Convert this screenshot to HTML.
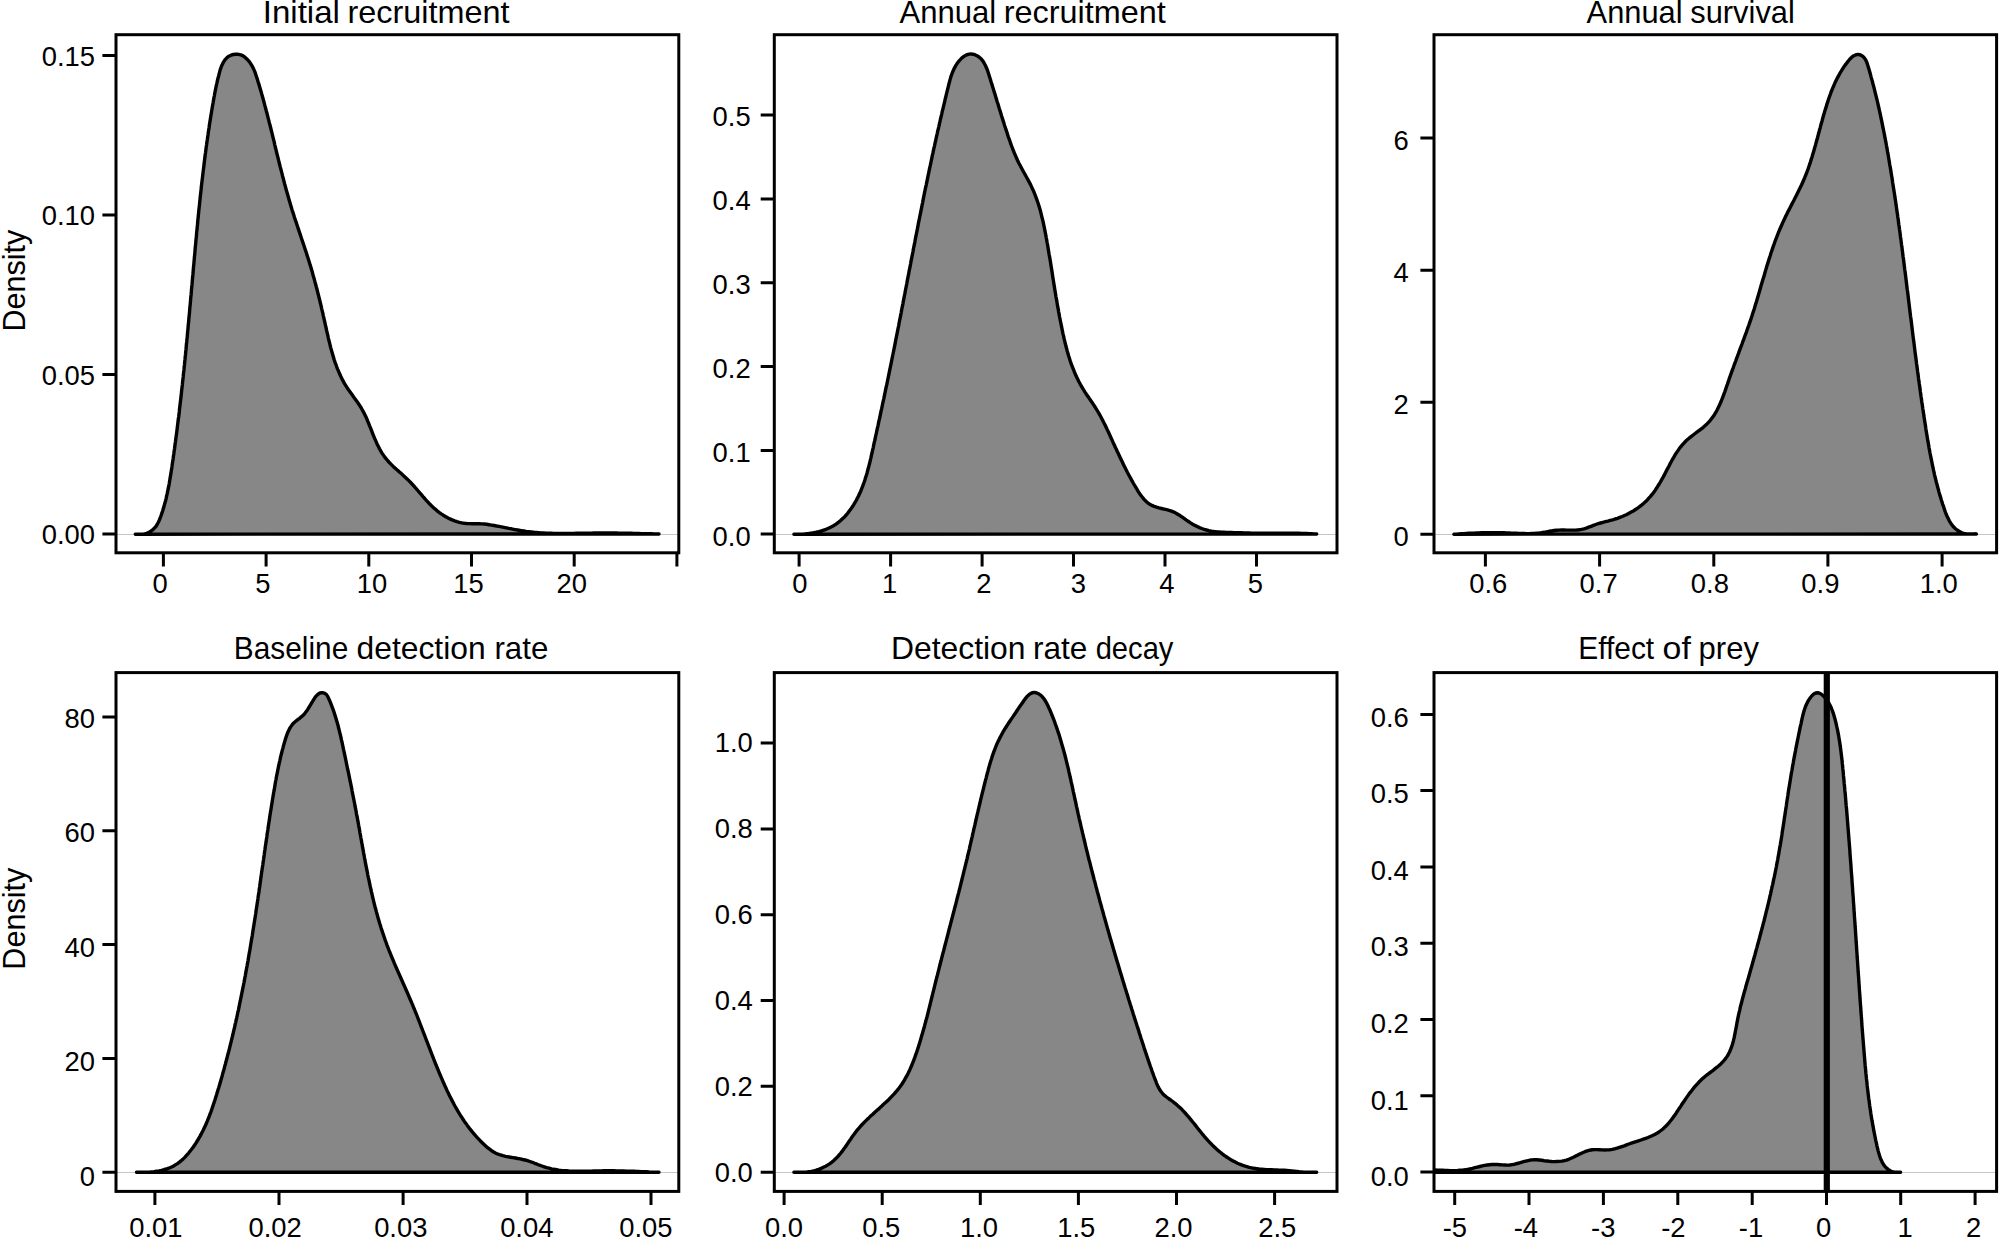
<!DOCTYPE html>
<html lang="en"><head><meta charset="utf-8"><title>Posterior densities</title>
<style>
html,body{margin:0;padding:0;background:#fff}
body{width:2005px;height:1243px;overflow:hidden}
svg{display:block}
text{font-family:"Liberation Sans", sans-serif;fill:#000}
.tk{font-size:27.4px}
.tt{font-size:30.5px}
.fr{fill:none;stroke:#000;stroke-width:3.0}
.cv{fill:#878787;stroke:#000;stroke-width:3.4;stroke-linejoin:round;stroke-linecap:round}
.t{stroke:#000;stroke-width:3.0;fill:none}
.hl{stroke:#c6c6c6;stroke-width:1;fill:none}
</style></head>
<body>
<svg width="2005" height="1243" viewBox="0 0 2005 1243">
<rect x="0" y="0" width="2005" height="1243" fill="#fff"/>
<g id="panel1">
<path class="hl" d="M116.0 534.5 H678.8"/>
<path class="cv" d="M135.3 534.2 L137.9 534.1 L140.5 534.1 L143.1 534.1 L145.6 533.8 L147.9 532.8 L150.1 531.7 L152.2 530.2 L154.0 528.6 L155.7 526.7 L157.0 524.7 L158.2 522.5 L159.3 520.2 L160.2 517.8 L161.1 515.5 L161.9 513.1 L162.7 510.7 L163.4 508.3 L164.1 505.9 L164.8 503.4 L165.5 501.0 L166.1 498.6 L166.6 496.1 L167.2 493.7 L167.7 491.2 L168.2 488.7 L168.7 486.3 L169.2 483.8 L169.6 481.3 L170.0 478.8 L170.4 476.4 L170.8 473.9 L171.2 471.4 L171.6 468.9 L172.0 466.4 L172.3 463.9 L172.7 461.4 L173.1 458.9 L173.4 456.5 L173.8 454.0 L174.1 451.5 L174.5 449.0 L174.8 446.5 L175.1 444.0 L175.5 441.5 L175.8 439.0 L176.1 436.6 L176.5 434.1 L176.8 431.6 L177.1 429.1 L177.4 426.6 L177.7 424.1 L178.0 421.6 L178.3 419.2 L178.7 416.7 L179.0 414.2 L179.3 411.7 L179.5 409.2 L179.8 406.7 L180.1 404.2 L180.4 401.8 L180.7 399.3 L181.0 396.8 L181.3 394.3 L181.5 391.8 L181.8 389.3 L182.1 386.8 L182.4 384.4 L182.6 381.9 L182.9 379.4 L183.2 376.9 L183.4 374.4 L183.7 371.9 L184.0 369.4 L184.2 366.9 L184.5 364.5 L184.7 362.0 L185.0 359.5 L185.2 357.0 L185.5 354.5 L185.7 352.0 L186.0 349.5 L186.2 347.0 L186.4 344.5 L186.7 342.0 L186.9 339.6 L187.2 337.1 L187.4 334.6 L187.6 332.1 L187.9 329.6 L188.1 327.1 L188.3 324.6 L188.6 322.1 L188.8 319.6 L189.0 317.1 L189.3 314.6 L189.5 312.1 L189.7 309.6 L189.9 307.1 L190.2 304.6 L190.4 302.2 L190.6 299.7 L190.8 297.2 L191.1 294.7 L191.3 292.2 L191.5 289.7 L191.7 287.2 L192.0 284.7 L192.2 282.2 L192.4 279.7 L192.6 277.2 L192.9 274.7 L193.1 272.2 L193.3 269.7 L193.5 267.1 L193.8 264.6 L194.0 262.1 L194.2 259.6 L194.4 257.1 L194.7 254.6 L194.9 252.1 L195.1 249.6 L195.3 247.1 L195.6 244.6 L195.8 242.1 L196.0 239.6 L196.3 237.1 L196.5 234.6 L196.7 232.1 L197.0 229.6 L197.2 227.1 L197.5 224.6 L197.7 222.1 L197.9 219.6 L198.2 217.1 L198.4 214.6 L198.7 212.1 L198.9 209.6 L199.2 207.1 L199.5 204.6 L199.7 202.1 L200.0 199.6 L200.2 197.1 L200.5 194.6 L200.8 192.1 L201.1 189.6 L201.3 187.1 L201.6 184.6 L201.9 182.1 L202.2 179.6 L202.5 177.1 L202.8 174.6 L203.1 172.1 L203.4 169.6 L203.7 167.2 L204.0 164.7 L204.3 162.2 L204.6 159.7 L204.9 157.2 L205.2 154.7 L205.6 152.2 L205.9 149.8 L206.2 147.3 L206.6 144.8 L206.9 142.3 L207.3 139.8 L207.6 137.4 L208.0 134.9 L208.3 132.4 L208.7 129.9 L209.1 127.5 L209.4 125.0 L209.8 122.5 L210.2 120.1 L210.6 117.6 L211.0 115.1 L211.4 112.7 L211.8 110.2 L212.2 107.8 L212.6 105.3 L213.1 102.8 L213.5 100.4 L213.9 97.9 L214.4 95.5 L214.8 93.0 L215.3 90.6 L215.8 88.1 L216.3 85.6 L216.9 83.2 L217.4 80.7 L218.0 78.2 L218.7 75.7 L219.3 73.1 L220.0 70.6 L220.8 68.1 L221.7 65.7 L222.8 63.4 L224.0 61.2 L225.4 59.3 L227.0 57.6 L228.9 56.2 L231.0 55.2 L233.4 54.5 L235.8 54.2 L238.3 54.3 L240.8 54.9 L243.1 55.9 L245.2 57.4 L247.1 59.2 L248.8 61.1 L250.3 63.1 L251.7 65.2 L252.9 67.4 L253.9 69.6 L254.9 71.9 L255.7 74.3 L256.5 76.7 L257.3 79.1 L258.0 81.5 L258.8 83.9 L259.5 86.3 L260.2 88.7 L260.9 91.1 L261.6 93.6 L262.3 96.0 L263.0 98.4 L263.6 100.8 L264.3 103.3 L264.9 105.7 L265.6 108.1 L266.2 110.5 L266.9 113.0 L267.5 115.4 L268.1 117.8 L268.7 120.2 L269.3 122.7 L270.0 125.1 L270.6 127.5 L271.2 130.0 L271.8 132.4 L272.4 134.8 L273.0 137.3 L273.6 139.7 L274.2 142.1 L274.7 144.6 L275.3 147.0 L275.9 149.4 L276.5 151.9 L277.1 154.3 L277.7 156.7 L278.3 159.2 L278.9 161.6 L279.5 164.0 L280.1 166.4 L280.8 168.9 L281.4 171.3 L282.0 173.7 L282.6 176.2 L283.3 178.6 L283.9 181.0 L284.5 183.4 L285.2 185.8 L285.8 188.3 L286.5 190.7 L287.2 193.1 L287.9 195.5 L288.6 197.9 L289.2 200.3 L290.0 202.7 L290.7 205.2 L291.4 207.6 L292.1 210.0 L292.9 212.4 L293.7 214.8 L294.4 217.2 L295.2 219.6 L296.0 221.9 L296.8 224.3 L297.6 226.7 L298.4 229.1 L299.2 231.5 L300.0 233.9 L300.8 236.3 L301.6 238.7 L302.4 241.1 L303.2 243.4 L304.0 245.8 L304.8 248.2 L305.6 250.6 L306.4 253.0 L307.1 255.4 L307.9 257.8 L308.7 260.2 L309.4 262.5 L310.1 264.9 L310.9 267.3 L311.6 269.7 L312.3 272.1 L312.9 274.5 L313.6 276.9 L314.3 279.3 L314.9 281.7 L315.6 284.1 L316.2 286.5 L316.9 288.9 L317.5 291.4 L318.1 293.8 L318.7 296.2 L319.3 298.6 L319.9 301.0 L320.5 303.5 L321.1 305.9 L321.6 308.3 L322.2 310.8 L322.8 313.2 L323.3 315.6 L323.9 318.1 L324.4 320.5 L325.0 323.0 L325.5 325.5 L326.1 327.9 L326.6 330.4 L327.2 332.9 L327.8 335.3 L328.3 337.8 L328.9 340.3 L329.5 342.7 L330.1 345.2 L330.7 347.6 L331.4 350.1 L332.1 352.5 L332.8 354.9 L333.5 357.3 L334.2 359.7 L335.0 362.1 L335.9 364.5 L336.7 366.8 L337.6 369.1 L338.6 371.4 L339.6 373.7 L340.6 376.0 L341.7 378.2 L342.8 380.4 L344.0 382.6 L345.3 384.8 L346.6 386.9 L348.0 389.0 L349.4 391.0 L350.9 393.1 L352.4 395.1 L353.8 397.2 L355.3 399.2 L356.8 401.3 L358.2 403.3 L359.6 405.4 L361.0 407.5 L362.2 409.7 L363.4 411.9 L364.6 414.1 L365.6 416.3 L366.7 418.6 L367.6 420.9 L368.6 423.2 L369.5 425.6 L370.5 427.9 L371.4 430.2 L372.3 432.6 L373.2 434.9 L374.2 437.3 L375.2 439.6 L376.2 441.9 L377.2 444.2 L378.4 446.5 L379.5 448.7 L380.7 450.9 L382.0 453.1 L383.4 455.1 L384.8 457.2 L386.4 459.1 L388.0 461.0 L389.6 462.8 L391.4 464.6 L393.2 466.4 L395.0 468.1 L396.9 469.8 L398.8 471.4 L400.7 473.1 L402.6 474.8 L404.4 476.4 L406.3 478.2 L408.1 479.9 L409.9 481.7 L411.6 483.5 L413.3 485.3 L414.9 487.2 L416.6 489.1 L418.2 491.0 L419.8 492.9 L421.4 494.7 L423.0 496.6 L424.7 498.5 L426.3 500.4 L428.0 502.2 L429.7 504.0 L431.5 505.8 L433.3 507.5 L435.2 509.1 L437.1 510.8 L439.1 512.3 L441.2 513.8 L443.3 515.2 L445.4 516.5 L447.7 517.8 L449.9 518.9 L452.2 519.9 L454.6 520.8 L457.0 521.6 L459.4 522.3 L461.8 522.9 L464.3 523.3 L466.8 523.5 L469.2 523.6 L471.7 523.7 L474.2 523.7 L476.7 523.7 L479.3 523.8 L481.7 523.9 L484.2 524.0 L486.7 524.3 L489.2 524.7 L491.6 525.1 L494.1 525.5 L496.6 526.0 L499.0 526.4 L501.5 526.9 L504.0 527.4 L506.4 527.9 L508.9 528.4 L511.4 528.8 L513.8 529.3 L516.3 529.8 L518.8 530.2 L521.3 530.6 L523.7 531.0 L526.2 531.4 L528.7 531.7 L531.2 532.0 L533.7 532.3 L536.2 532.5 L538.7 532.7 L541.2 532.9 L543.7 533.0 L546.2 533.1 L548.7 533.2 L551.2 533.3 L553.7 533.4 L556.2 533.4 L558.7 533.5 L561.2 533.5 L563.7 533.5 L566.2 533.5 L568.7 533.5 L571.2 533.4 L573.7 533.4 L576.2 533.3 L578.8 533.3 L581.3 533.3 L583.8 533.2 L586.3 533.2 L588.8 533.1 L591.3 533.1 L593.8 533.0 L596.3 533.0 L598.8 533.0 L601.3 533.0 L603.9 532.9 L606.4 533.0 L608.9 533.0 L611.4 533.0 L613.9 533.0 L616.4 533.0 L618.9 533.1 L621.4 533.1 L623.9 533.2 L626.4 533.2 L628.9 533.3 L631.4 533.3 L633.9 533.4 L636.4 533.4 L638.9 533.5 L641.4 533.6 L643.9 533.6 L646.5 533.7 L649.0 533.8 L651.5 533.8 L654.0 533.9 L656.5 533.9 L659.0 534.0 Z"/>
<rect class="fr" x="116.0" y="34.7" width="562.8" height="518.1"/>
<path class="t" d="M163.4 552.8 v13.6 M266.1 552.8 v13.6 M368.8 552.8 v13.6 M471.5 552.8 v13.6 M574.2 552.8 v13.6 M676.9 552.8 v13.6 M116.0 534.1 h-13.6 M116.0 374.6 h-13.6 M116.0 215.1 h-13.6 M116.0 55.6 h-13.6"/>
<text class="tk" x="160.2" y="592.6" text-anchor="middle">0</text>
<text class="tk" x="262.9" y="592.6" text-anchor="middle">5</text>
<text class="tk" x="372.0" y="592.6" text-anchor="middle">10</text>
<text class="tk" x="468.4" y="592.6" text-anchor="middle">15</text>
<text class="tk" x="571.7" y="592.6" text-anchor="middle">20</text>
<text class="tk" x="95.0" y="544.2" text-anchor="end">0.00</text>
<text class="tk" x="95.0" y="384.7" text-anchor="end">0.05</text>
<text class="tk" x="95.0" y="225.2" text-anchor="end">0.10</text>
<text class="tk" x="95.0" y="65.7" text-anchor="end">0.15</text>
<text class="tt" y="23.0"><tspan x="262.72" textLength="77.24" lengthAdjust="spacingAndGlyphs">Initial</tspan> <tspan x="347.46" textLength="162.12" lengthAdjust="spacingAndGlyphs">recruitment</tspan></text>
</g>
<g id="panel2">
<path class="hl" d="M774.3 534.5 H1337.0"/>
<path class="cv" d="M793.9 534.2 L796.3 534.1 L798.8 534.1 L801.2 534.1 L803.7 534.0 L806.3 533.8 L808.8 533.5 L811.3 533.1 L813.8 532.7 L816.4 532.2 L818.8 531.6 L821.3 530.9 L823.7 530.1 L826.1 529.3 L828.4 528.3 L830.7 527.2 L832.9 526.1 L835.0 524.8 L837.0 523.4 L839.0 521.9 L840.9 520.3 L842.7 518.6 L844.5 516.9 L846.2 515.0 L847.8 513.1 L849.3 511.1 L850.8 509.1 L852.2 507.0 L853.6 504.9 L854.9 502.7 L856.2 500.5 L857.3 498.3 L858.5 496.0 L859.5 493.7 L860.6 491.4 L861.5 489.1 L862.5 486.7 L863.3 484.4 L864.2 482.0 L865.0 479.6 L865.7 477.2 L866.5 474.8 L867.2 472.4 L867.8 470.0 L868.5 467.6 L869.1 465.2 L869.7 462.8 L870.3 460.3 L870.9 457.9 L871.4 455.4 L872.0 453.0 L872.5 450.5 L873.1 448.1 L873.6 445.6 L874.1 443.2 L874.7 440.7 L875.2 438.3 L875.7 435.8 L876.3 433.4 L876.8 430.9 L877.3 428.5 L877.9 426.1 L878.4 423.6 L878.9 421.2 L879.5 418.7 L880.0 416.3 L880.5 413.8 L881.0 411.4 L881.6 408.9 L882.1 406.5 L882.6 404.0 L883.1 401.6 L883.7 399.1 L884.2 396.7 L884.7 394.2 L885.2 391.8 L885.7 389.3 L886.2 386.9 L886.8 384.4 L887.3 382.0 L887.8 379.5 L888.3 377.1 L888.8 374.6 L889.3 372.2 L889.8 369.7 L890.3 367.3 L890.8 364.8 L891.3 362.3 L891.8 359.9 L892.3 357.4 L892.8 355.0 L893.3 352.5 L893.8 350.1 L894.3 347.6 L894.8 345.1 L895.3 342.7 L895.7 340.2 L896.2 337.8 L896.7 335.3 L897.2 332.8 L897.7 330.4 L898.2 327.9 L898.7 325.5 L899.1 323.0 L899.6 320.5 L900.1 318.1 L900.6 315.6 L901.1 313.1 L901.5 310.7 L902.0 308.2 L902.5 305.7 L903.0 303.3 L903.4 300.8 L903.9 298.3 L904.4 295.9 L904.9 293.4 L905.3 291.0 L905.8 288.5 L906.3 286.0 L906.8 283.6 L907.2 281.1 L907.7 278.6 L908.2 276.2 L908.7 273.7 L909.1 271.2 L909.6 268.8 L910.1 266.3 L910.6 263.8 L911.0 261.4 L911.5 258.9 L912.0 256.4 L912.5 254.0 L913.0 251.5 L913.4 249.0 L913.9 246.6 L914.4 244.1 L914.9 241.6 L915.3 239.2 L915.8 236.7 L916.3 234.3 L916.8 231.8 L917.3 229.3 L917.8 226.9 L918.2 224.4 L918.7 221.9 L919.2 219.5 L919.7 217.0 L920.2 214.6 L920.7 212.1 L921.2 209.6 L921.7 207.2 L922.2 204.7 L922.7 202.3 L923.1 199.8 L923.6 197.3 L924.1 194.9 L924.6 192.4 L925.1 190.0 L925.6 187.5 L926.2 185.1 L926.7 182.6 L927.2 180.1 L927.7 177.7 L928.2 175.2 L928.7 172.8 L929.2 170.3 L929.7 167.9 L930.3 165.4 L930.8 163.0 L931.3 160.5 L931.8 158.1 L932.3 155.6 L932.9 153.2 L933.4 150.7 L933.9 148.3 L934.5 145.8 L935.0 143.4 L935.6 141.0 L936.1 138.5 L936.6 136.1 L937.2 133.6 L937.7 131.2 L938.3 128.8 L938.9 126.3 L939.4 123.9 L940.0 121.4 L940.5 119.0 L941.1 116.6 L941.7 114.1 L942.2 111.7 L942.8 109.3 L943.4 106.8 L944.0 104.4 L944.6 102.0 L945.1 99.5 L945.7 97.1 L946.3 94.6 L946.9 92.2 L947.5 89.7 L948.1 87.3 L948.7 84.8 L949.4 82.3 L950.0 79.9 L950.7 77.4 L951.5 75.0 L952.4 72.7 L953.3 70.4 L954.4 68.1 L955.6 65.9 L956.9 63.8 L958.4 61.7 L960.1 59.8 L961.9 57.9 L963.9 56.4 L966.0 55.1 L968.2 54.3 L970.5 53.9 L972.9 54.2 L975.3 54.9 L977.5 56.0 L979.5 57.4 L981.3 59.1 L982.8 60.9 L984.1 63.0 L985.3 65.2 L986.3 67.5 L987.3 69.8 L988.1 72.3 L988.9 74.8 L989.7 77.3 L990.5 79.7 L991.2 82.2 L992.0 84.6 L992.7 87.0 L993.5 89.5 L994.2 91.9 L995.0 94.3 L995.7 96.7 L996.4 99.1 L997.1 101.5 L997.9 103.8 L998.6 106.2 L999.3 108.6 L1000.1 111.0 L1000.8 113.3 L1001.5 115.7 L1002.3 118.1 L1003.0 120.4 L1003.8 122.8 L1004.5 125.2 L1005.3 127.5 L1006.1 129.9 L1006.9 132.3 L1007.6 134.6 L1008.4 137.0 L1009.3 139.4 L1010.1 141.8 L1010.9 144.2 L1011.8 146.5 L1012.7 148.9 L1013.6 151.2 L1014.6 153.6 L1015.6 155.9 L1016.6 158.2 L1017.6 160.5 L1018.7 162.8 L1019.9 165.0 L1021.1 167.3 L1022.3 169.5 L1023.5 171.7 L1024.7 173.8 L1025.9 176.0 L1027.1 178.2 L1028.3 180.4 L1029.5 182.6 L1030.7 184.9 L1031.7 187.1 L1032.8 189.4 L1033.8 191.6 L1034.7 193.9 L1035.6 196.3 L1036.5 198.6 L1037.3 201.0 L1038.1 203.3 L1038.9 205.7 L1039.6 208.1 L1040.3 210.5 L1040.9 212.9 L1041.5 215.4 L1042.1 217.8 L1042.7 220.2 L1043.3 222.7 L1043.8 225.2 L1044.3 227.6 L1044.8 230.1 L1045.3 232.6 L1045.8 235.0 L1046.2 237.5 L1046.7 240.0 L1047.1 242.5 L1047.6 244.9 L1048.0 247.4 L1048.4 249.9 L1048.8 252.4 L1049.2 254.8 L1049.7 257.3 L1050.1 259.8 L1050.5 262.3 L1050.9 264.7 L1051.3 267.2 L1051.7 269.7 L1052.1 272.1 L1052.4 274.6 L1052.8 277.1 L1053.2 279.5 L1053.6 282.0 L1054.0 284.5 L1054.4 286.9 L1054.8 289.4 L1055.2 291.9 L1055.6 294.3 L1056.0 296.8 L1056.5 299.3 L1056.9 301.7 L1057.3 304.2 L1057.7 306.7 L1058.2 309.1 L1058.6 311.6 L1059.1 314.1 L1059.5 316.5 L1060.0 319.0 L1060.5 321.5 L1061.0 323.9 L1061.5 326.4 L1062.0 328.9 L1062.5 331.3 L1063.0 333.8 L1063.6 336.2 L1064.1 338.7 L1064.7 341.2 L1065.3 343.6 L1065.9 346.1 L1066.6 348.5 L1067.2 350.9 L1067.9 353.3 L1068.6 355.8 L1069.4 358.2 L1070.1 360.5 L1070.9 362.9 L1071.8 365.3 L1072.7 367.6 L1073.6 369.9 L1074.5 372.2 L1075.5 374.5 L1076.5 376.8 L1077.6 379.1 L1078.7 381.3 L1079.9 383.5 L1081.1 385.7 L1082.4 387.8 L1083.7 390.0 L1085.0 392.1 L1086.4 394.2 L1087.8 396.2 L1089.2 398.3 L1090.7 400.4 L1092.1 402.5 L1093.5 404.6 L1094.9 406.7 L1096.2 408.8 L1097.5 411.0 L1098.8 413.1 L1100.0 415.3 L1101.2 417.5 L1102.4 419.7 L1103.5 422.0 L1104.7 424.2 L1105.8 426.5 L1106.8 428.8 L1107.9 431.0 L1109.0 433.3 L1110.0 435.6 L1111.1 437.9 L1112.1 440.1 L1113.1 442.4 L1114.2 444.7 L1115.2 447.0 L1116.3 449.2 L1117.3 451.5 L1118.4 453.8 L1119.4 456.0 L1120.5 458.3 L1121.6 460.6 L1122.7 462.8 L1123.7 465.1 L1124.9 467.3 L1126.0 469.5 L1127.1 471.8 L1128.3 474.0 L1129.5 476.2 L1130.7 478.4 L1131.9 480.6 L1133.1 482.8 L1134.4 485.0 L1135.7 487.2 L1137.0 489.4 L1138.3 491.6 L1139.7 493.7 L1141.2 495.8 L1142.7 497.7 L1144.3 499.6 L1146.0 501.3 L1147.8 502.9 L1149.8 504.3 L1151.9 505.4 L1154.2 506.4 L1156.6 507.2 L1159.0 507.9 L1161.5 508.5 L1164.1 509.1 L1166.6 509.7 L1169.1 510.3 L1171.5 511.1 L1173.9 512.1 L1176.1 513.2 L1178.2 514.5 L1180.3 515.8 L1182.3 517.2 L1184.4 518.7 L1186.4 520.1 L1188.5 521.5 L1190.6 522.9 L1192.7 524.2 L1194.9 525.4 L1197.2 526.5 L1199.5 527.6 L1201.8 528.5 L1204.2 529.3 L1206.6 530.0 L1209.0 530.6 L1211.5 531.1 L1213.9 531.5 L1216.4 531.8 L1218.9 532.0 L1221.4 532.2 L1223.9 532.3 L1226.5 532.4 L1229.0 532.5 L1231.5 532.5 L1234.0 532.6 L1236.5 532.7 L1239.0 532.7 L1241.5 532.8 L1244.0 532.9 L1246.5 532.9 L1249.0 533.0 L1251.5 533.1 L1254.0 533.1 L1256.5 533.1 L1259.0 533.2 L1261.6 533.2 L1264.1 533.2 L1266.6 533.2 L1269.1 533.2 L1271.6 533.2 L1274.1 533.2 L1276.6 533.2 L1279.1 533.2 L1281.6 533.2 L1284.1 533.2 L1286.6 533.2 L1289.1 533.2 L1291.6 533.2 L1294.1 533.2 L1296.7 533.3 L1299.2 533.3 L1301.7 533.4 L1304.2 533.5 L1306.7 533.5 L1309.2 533.7 L1311.7 533.8 L1314.2 533.9 L1316.7 534.0 Z"/>
<rect class="fr" x="774.3" y="34.7" width="562.7" height="518.1"/>
<path class="t" d="M799.1 552.8 v13.6 M890.6 552.8 v13.6 M982.1 552.8 v13.6 M1073.5 552.8 v13.6 M1165.0 552.8 v13.6 M1256.5 552.8 v13.6 M774.3 534.1 h-13.6 M774.3 450.4 h-13.6 M774.3 366.6 h-13.6 M774.3 282.7 h-13.6 M774.3 198.9 h-13.6 M774.3 115.1 h-13.6"/>
<text class="tk" x="799.8" y="592.6" text-anchor="middle">0</text>
<text class="tk" x="889.5" y="592.6" text-anchor="middle">1</text>
<text class="tk" x="983.8" y="592.6" text-anchor="middle">2</text>
<text class="tk" x="1078.4" y="592.6" text-anchor="middle">3</text>
<text class="tk" x="1166.8" y="592.6" text-anchor="middle">4</text>
<text class="tk" x="1255.3" y="592.6" text-anchor="middle">5</text>
<text class="tk" x="750.7" y="545.7" text-anchor="end">0.0</text>
<text class="tk" x="750.7" y="461.8" text-anchor="end">0.1</text>
<text class="tk" x="750.7" y="377.9" text-anchor="end">0.2</text>
<text class="tk" x="750.7" y="293.8" text-anchor="end">0.3</text>
<text class="tk" x="750.7" y="209.9" text-anchor="end">0.4</text>
<text class="tk" x="750.7" y="125.9" text-anchor="end">0.5</text>
<text class="tt" y="23.0"><tspan x="899.42" textLength="96.75" lengthAdjust="spacingAndGlyphs">Annual</tspan> <tspan x="1003.67" textLength="162.12" lengthAdjust="spacingAndGlyphs">recruitment</tspan></text>
</g>
<g id="panel3">
<path class="hl" d="M1434.0 534.5 H1996.6"/>
<path class="cv" d="M1453.9 534.2 L1456.4 534.1 L1458.9 533.9 L1461.4 533.7 L1463.9 533.6 L1466.4 533.4 L1468.9 533.3 L1471.5 533.2 L1474.0 533.1 L1476.5 533.0 L1479.0 532.9 L1481.5 532.8 L1484.0 532.7 L1486.5 532.7 L1489.0 532.7 L1491.5 532.6 L1494.0 532.6 L1496.5 532.6 L1499.0 532.7 L1501.5 532.7 L1504.0 532.8 L1506.5 532.9 L1509.0 532.9 L1511.5 533.1 L1514.0 533.2 L1516.5 533.3 L1519.1 533.4 L1521.6 533.5 L1524.1 533.5 L1526.6 533.6 L1529.1 533.6 L1531.6 533.5 L1534.1 533.4 L1536.6 533.2 L1539.0 533.0 L1541.5 532.7 L1544.0 532.3 L1546.5 531.8 L1549.0 531.3 L1551.5 530.9 L1553.9 530.5 L1556.4 530.2 L1559.0 530.1 L1561.5 530.0 L1564.0 530.0 L1566.5 530.1 L1569.1 530.1 L1571.6 530.1 L1574.1 530.1 L1576.6 530.0 L1579.0 529.8 L1581.5 529.4 L1583.9 528.8 L1586.3 528.1 L1588.7 527.2 L1591.1 526.3 L1593.4 525.4 L1595.8 524.5 L1598.2 523.7 L1600.6 523.0 L1603.0 522.3 L1605.4 521.7 L1607.9 521.1 L1610.3 520.4 L1612.7 519.8 L1615.1 519.0 L1617.5 518.3 L1619.8 517.4 L1622.2 516.5 L1624.5 515.5 L1626.8 514.5 L1629.0 513.3 L1631.2 512.1 L1633.4 510.9 L1635.5 509.5 L1637.6 508.1 L1639.6 506.7 L1641.6 505.1 L1643.5 503.5 L1645.4 501.8 L1647.1 500.1 L1648.8 498.2 L1650.5 496.4 L1652.1 494.4 L1653.6 492.4 L1655.1 490.4 L1656.5 488.3 L1657.8 486.2 L1659.2 484.0 L1660.5 481.8 L1661.7 479.6 L1663.0 477.4 L1664.2 475.1 L1665.3 472.9 L1666.5 470.6 L1667.7 468.4 L1668.9 466.2 L1670.0 463.9 L1671.2 461.7 L1672.4 459.5 L1673.7 457.4 L1674.9 455.2 L1676.2 453.1 L1677.6 451.1 L1679.0 449.1 L1680.5 447.1 L1682.1 445.2 L1683.7 443.3 L1685.4 441.5 L1687.2 439.8 L1689.1 438.2 L1691.1 436.6 L1693.1 435.0 L1695.1 433.5 L1697.2 431.9 L1699.3 430.4 L1701.3 428.8 L1703.3 427.3 L1705.2 425.6 L1707.0 423.9 L1708.7 422.1 L1710.3 420.3 L1711.8 418.3 L1713.3 416.4 L1714.6 414.3 L1715.9 412.2 L1717.1 410.0 L1718.2 407.8 L1719.3 405.6 L1720.3 403.3 L1721.3 401.0 L1722.2 398.7 L1723.1 396.3 L1724.0 393.9 L1724.9 391.5 L1725.7 389.1 L1726.5 386.7 L1727.4 384.3 L1728.2 381.9 L1729.0 379.5 L1729.8 377.1 L1730.7 374.7 L1731.5 372.3 L1732.4 369.9 L1733.3 367.5 L1734.1 365.2 L1735.0 362.8 L1735.9 360.5 L1736.7 358.1 L1737.6 355.8 L1738.5 353.4 L1739.3 351.1 L1740.2 348.7 L1741.1 346.4 L1742.0 344.0 L1742.8 341.7 L1743.7 339.4 L1744.5 337.0 L1745.4 334.7 L1746.3 332.3 L1747.1 330.0 L1747.9 327.6 L1748.8 325.3 L1749.6 322.9 L1750.4 320.6 L1751.2 318.2 L1752.0 315.8 L1752.7 313.5 L1753.5 311.1 L1754.3 308.7 L1755.0 306.3 L1755.7 303.9 L1756.5 301.5 L1757.2 299.1 L1757.9 296.7 L1758.6 294.3 L1759.3 291.9 L1760.0 289.5 L1760.7 287.0 L1761.4 284.6 L1762.1 282.2 L1762.8 279.8 L1763.6 277.4 L1764.3 275.0 L1765.0 272.6 L1765.7 270.1 L1766.4 267.7 L1767.1 265.3 L1767.9 262.9 L1768.6 260.5 L1769.4 258.1 L1770.2 255.7 L1770.9 253.3 L1771.7 251.0 L1772.5 248.6 L1773.3 246.2 L1774.2 243.8 L1775.0 241.5 L1775.9 239.1 L1776.8 236.8 L1777.7 234.5 L1778.6 232.1 L1779.6 229.8 L1780.6 227.5 L1781.6 225.2 L1782.6 222.9 L1783.6 220.7 L1784.7 218.4 L1785.8 216.1 L1786.9 213.9 L1788.0 211.6 L1789.2 209.4 L1790.3 207.2 L1791.5 204.9 L1792.6 202.7 L1793.8 200.5 L1794.9 198.3 L1796.1 196.0 L1797.2 193.8 L1798.3 191.6 L1799.4 189.3 L1800.5 187.1 L1801.6 184.8 L1802.6 182.5 L1803.6 180.2 L1804.6 177.9 L1805.5 175.6 L1806.5 173.3 L1807.3 171.0 L1808.2 168.6 L1809.0 166.3 L1809.8 163.9 L1810.6 161.5 L1811.3 159.1 L1812.1 156.7 L1812.8 154.3 L1813.5 151.9 L1814.2 149.5 L1814.9 147.1 L1815.6 144.7 L1816.2 142.3 L1816.9 139.8 L1817.6 137.4 L1818.2 135.0 L1818.9 132.6 L1819.5 130.1 L1820.2 127.7 L1820.8 125.3 L1821.5 122.8 L1822.2 120.4 L1822.8 118.0 L1823.5 115.6 L1824.2 113.2 L1824.9 110.8 L1825.7 108.4 L1826.4 106.0 L1827.1 103.6 L1827.9 101.2 L1828.7 98.8 L1829.5 96.5 L1830.4 94.1 L1831.2 91.8 L1832.2 89.5 L1833.1 87.2 L1834.1 84.9 L1835.1 82.6 L1836.2 80.3 L1837.3 78.1 L1838.5 75.9 L1839.7 73.7 L1841.0 71.5 L1842.3 69.4 L1843.7 67.2 L1845.1 65.1 L1846.7 63.1 L1848.3 61.0 L1849.9 59.0 L1851.8 57.2 L1853.8 55.7 L1856.0 54.7 L1858.3 54.4 L1860.6 55.0 L1862.7 56.2 L1864.3 57.9 L1865.6 59.8 L1866.7 62.1 L1867.5 64.4 L1868.2 66.9 L1869.0 69.3 L1869.7 71.7 L1870.4 74.2 L1871.0 76.6 L1871.7 79.1 L1872.4 81.5 L1873.0 84.0 L1873.7 86.4 L1874.3 88.9 L1874.9 91.3 L1875.5 93.8 L1876.1 96.2 L1876.7 98.7 L1877.3 101.1 L1877.9 103.6 L1878.4 106.0 L1879.0 108.5 L1879.5 110.9 L1880.1 113.4 L1880.6 115.8 L1881.1 118.3 L1881.6 120.7 L1882.1 123.2 L1882.6 125.6 L1883.1 128.1 L1883.6 130.5 L1884.1 133.0 L1884.6 135.4 L1885.0 137.9 L1885.5 140.4 L1886.0 142.8 L1886.4 145.3 L1886.9 147.7 L1887.3 150.2 L1887.7 152.7 L1888.2 155.1 L1888.6 157.6 L1889.0 160.1 L1889.4 162.5 L1889.8 165.0 L1890.3 167.5 L1890.7 169.9 L1891.1 172.4 L1891.5 174.9 L1891.9 177.3 L1892.3 179.8 L1892.6 182.3 L1893.0 184.8 L1893.4 187.2 L1893.8 189.7 L1894.2 192.2 L1894.6 194.7 L1894.9 197.1 L1895.3 199.6 L1895.7 202.1 L1896.0 204.6 L1896.4 207.1 L1896.7 209.6 L1897.1 212.0 L1897.5 214.5 L1897.8 217.0 L1898.2 219.5 L1898.5 222.0 L1898.8 224.5 L1899.2 226.9 L1899.5 229.4 L1899.9 231.9 L1900.2 234.4 L1900.5 236.9 L1900.9 239.4 L1901.2 241.9 L1901.5 244.4 L1901.9 246.9 L1902.2 249.4 L1902.5 251.8 L1902.8 254.3 L1903.1 256.8 L1903.5 259.3 L1903.8 261.8 L1904.1 264.3 L1904.4 266.8 L1904.7 269.3 L1905.1 271.8 L1905.4 274.3 L1905.7 276.8 L1906.0 279.3 L1906.3 281.8 L1906.6 284.3 L1906.9 286.8 L1907.2 289.3 L1907.6 291.7 L1907.9 294.2 L1908.2 296.7 L1908.5 299.2 L1908.8 301.7 L1909.1 304.2 L1909.4 306.7 L1909.7 309.2 L1910.0 311.7 L1910.3 314.2 L1910.6 316.7 L1911.0 319.2 L1911.3 321.7 L1911.6 324.2 L1911.9 326.7 L1912.2 329.2 L1912.5 331.6 L1912.8 334.1 L1913.1 336.6 L1913.4 339.1 L1913.8 341.6 L1914.1 344.1 L1914.4 346.6 L1914.7 349.1 L1915.0 351.6 L1915.3 354.1 L1915.7 356.6 L1916.0 359.0 L1916.3 361.5 L1916.6 364.0 L1917.0 366.5 L1917.3 369.0 L1917.6 371.5 L1918.0 374.0 L1918.3 376.4 L1918.6 378.9 L1919.0 381.4 L1919.3 383.9 L1919.7 386.4 L1920.0 388.8 L1920.3 391.3 L1920.7 393.8 L1921.0 396.3 L1921.4 398.8 L1921.7 401.2 L1922.1 403.7 L1922.5 406.2 L1922.8 408.7 L1923.2 411.1 L1923.6 413.6 L1923.9 416.1 L1924.3 418.5 L1924.7 421.0 L1925.1 423.5 L1925.5 425.9 L1925.8 428.4 L1926.2 430.9 L1926.6 433.3 L1927.0 435.8 L1927.4 438.3 L1927.8 440.7 L1928.3 443.2 L1928.7 445.6 L1929.1 448.1 L1929.6 450.6 L1930.0 453.0 L1930.5 455.5 L1931.0 457.9 L1931.5 460.4 L1932.0 462.8 L1932.5 465.3 L1933.0 467.7 L1933.5 470.2 L1934.1 472.6 L1934.6 475.1 L1935.2 477.5 L1935.8 479.9 L1936.4 482.4 L1937.1 484.8 L1937.7 487.3 L1938.4 489.7 L1939.0 492.1 L1939.7 494.6 L1940.5 497.0 L1941.2 499.4 L1942.0 501.9 L1942.7 504.3 L1943.6 506.7 L1944.4 509.2 L1945.2 511.6 L1946.1 514.0 L1947.1 516.3 L1948.2 518.6 L1949.3 520.8 L1950.6 522.9 L1951.9 524.9 L1953.5 526.8 L1955.2 528.5 L1957.1 530.0 L1959.1 531.4 L1961.4 532.5 L1963.8 533.5 L1966.3 534.1 L1968.8 534.1 L1971.4 534.1 L1973.9 534.1 L1976.4 534.0 Z"/>
<rect class="fr" x="1434.0" y="34.7" width="562.6" height="518.1"/>
<path class="t" d="M1485.4 552.8 v13.6 M1599.6 552.8 v13.6 M1713.8 552.8 v13.6 M1827.9 552.8 v13.6 M1942.1 552.8 v13.6 M1434.0 534.3 h-13.6 M1434.0 402.2 h-13.6 M1434.0 270.2 h-13.6 M1434.0 138.1 h-13.6"/>
<text class="tk" x="1488.3" y="592.6" text-anchor="middle">0.6</text>
<text class="tk" x="1598.6" y="592.6" text-anchor="middle">0.7</text>
<text class="tk" x="1709.9" y="592.6" text-anchor="middle">0.8</text>
<text class="tk" x="1820.4" y="592.6" text-anchor="middle">0.9</text>
<text class="tk" x="1938.7" y="592.6" text-anchor="middle">1.0</text>
<text class="tk" x="1408.8" y="545.9" text-anchor="end">0</text>
<text class="tk" x="1408.8" y="413.8" text-anchor="end">2</text>
<text class="tk" x="1408.8" y="281.8" text-anchor="end">4</text>
<text class="tk" x="1408.8" y="149.7" text-anchor="end">6</text>
<text class="tt" y="23.0"><tspan x="1586.63" textLength="95.96" lengthAdjust="spacingAndGlyphs">Annual</tspan> <tspan x="1690.31" textLength="104.49" lengthAdjust="spacingAndGlyphs">survival</tspan></text>
</g>
<g id="panel4">
<path class="hl" d="M116.0 1172.5 H678.8"/>
<path class="cv" d="M136.5 1172.3 L139.0 1172.2 L141.4 1172.2 L144.0 1172.2 L146.5 1172.2 L149.0 1172.1 L151.5 1171.9 L154.1 1171.7 L156.6 1171.3 L159.1 1170.9 L161.5 1170.4 L164.0 1169.7 L166.3 1169.0 L168.7 1168.2 L171.0 1167.2 L173.2 1166.2 L175.3 1164.9 L177.4 1163.6 L179.4 1162.1 L181.3 1160.6 L183.2 1158.9 L185.0 1157.1 L186.7 1155.2 L188.4 1153.3 L190.0 1151.3 L191.6 1149.3 L193.1 1147.3 L194.5 1145.2 L195.9 1143.1 L197.2 1141.0 L198.5 1138.8 L199.8 1136.6 L201.0 1134.4 L202.1 1132.2 L203.3 1130.0 L204.3 1127.7 L205.4 1125.5 L206.4 1123.2 L207.4 1120.9 L208.3 1118.6 L209.2 1116.3 L210.1 1113.9 L211.0 1111.6 L211.8 1109.2 L212.6 1106.9 L213.4 1104.5 L214.2 1102.1 L215.0 1099.7 L215.7 1097.4 L216.5 1095.0 L217.2 1092.6 L217.9 1090.2 L218.7 1087.8 L219.4 1085.4 L220.1 1083.0 L220.8 1080.6 L221.5 1078.1 L222.2 1075.7 L222.8 1073.3 L223.5 1070.9 L224.2 1068.5 L224.8 1066.1 L225.5 1063.7 L226.1 1061.2 L226.8 1058.8 L227.4 1056.4 L228.0 1054.0 L228.7 1051.5 L229.3 1049.1 L229.9 1046.7 L230.5 1044.2 L231.1 1041.8 L231.7 1039.4 L232.3 1036.9 L232.9 1034.5 L233.4 1032.1 L234.0 1029.6 L234.6 1027.2 L235.1 1024.7 L235.7 1022.3 L236.2 1019.9 L236.8 1017.4 L237.3 1015.0 L237.8 1012.5 L238.4 1010.1 L238.9 1007.6 L239.4 1005.1 L239.9 1002.7 L240.4 1000.2 L240.9 997.8 L241.4 995.3 L241.9 992.9 L242.4 990.4 L242.9 987.9 L243.4 985.5 L243.9 983.0 L244.3 980.6 L244.8 978.1 L245.3 975.6 L245.7 973.2 L246.2 970.7 L246.6 968.2 L247.1 965.8 L247.5 963.3 L248.0 960.8 L248.4 958.4 L248.8 955.9 L249.2 953.4 L249.7 950.9 L250.1 948.5 L250.5 946.0 L250.9 943.5 L251.3 941.0 L251.7 938.6 L252.2 936.1 L252.6 933.6 L252.9 931.1 L253.3 928.7 L253.7 926.2 L254.1 923.7 L254.5 921.2 L254.9 918.8 L255.3 916.3 L255.7 913.8 L256.0 911.3 L256.4 908.8 L256.8 906.4 L257.1 903.9 L257.5 901.4 L257.9 898.9 L258.2 896.4 L258.6 894.0 L259.0 891.5 L259.3 889.0 L259.7 886.5 L260.0 884.0 L260.4 881.6 L260.7 879.1 L261.1 876.6 L261.4 874.1 L261.8 871.6 L262.1 869.2 L262.5 866.7 L262.9 864.2 L263.2 861.7 L263.6 859.2 L263.9 856.7 L264.3 854.3 L264.6 851.8 L265.0 849.3 L265.3 846.8 L265.7 844.3 L266.1 841.9 L266.4 839.4 L266.8 836.9 L267.1 834.4 L267.5 832.0 L267.9 829.5 L268.2 827.0 L268.6 824.5 L269.0 822.0 L269.4 819.6 L269.7 817.1 L270.1 814.6 L270.5 812.1 L270.9 809.7 L271.3 807.2 L271.7 804.7 L272.1 802.2 L272.5 799.8 L272.9 797.3 L273.3 794.8 L273.7 792.3 L274.2 789.9 L274.6 787.4 L275.0 784.9 L275.4 782.4 L275.9 780.0 L276.3 777.5 L276.8 775.0 L277.3 772.6 L277.8 770.1 L278.3 767.7 L278.8 765.2 L279.3 762.8 L279.9 760.3 L280.4 757.9 L281.0 755.4 L281.6 753.0 L282.2 750.6 L282.9 748.1 L283.5 745.7 L284.2 743.3 L284.9 740.9 L285.6 738.5 L286.4 736.1 L287.3 733.7 L288.2 731.4 L289.3 729.2 L290.5 727.1 L291.9 725.1 L293.5 723.2 L295.4 721.5 L297.4 719.9 L299.5 718.3 L301.5 716.7 L303.4 715.0 L305.1 713.1 L306.6 711.1 L307.9 709.1 L309.2 707.0 L310.5 704.9 L311.8 702.7 L313.1 700.5 L314.5 698.3 L316.1 696.1 L317.9 694.3 L320.0 693.0 L322.2 692.6 L324.4 693.1 L326.3 694.4 L327.7 696.4 L328.8 698.7 L329.8 701.0 L330.8 703.4 L331.7 705.8 L332.6 708.2 L333.5 710.6 L334.3 713.0 L335.0 715.4 L335.8 717.8 L336.5 720.2 L337.2 722.6 L337.9 725.0 L338.5 727.5 L339.1 729.9 L339.7 732.3 L340.3 734.7 L340.9 737.2 L341.4 739.6 L342.0 742.1 L342.5 744.5 L343.0 746.9 L343.5 749.4 L344.1 751.8 L344.6 754.3 L345.1 756.7 L345.6 759.2 L346.1 761.6 L346.6 764.1 L347.1 766.5 L347.6 769.0 L348.2 771.4 L348.7 773.9 L349.2 776.3 L349.7 778.8 L350.2 781.3 L350.7 783.7 L351.2 786.2 L351.7 788.6 L352.1 791.1 L352.6 793.6 L353.1 796.0 L353.6 798.5 L354.1 801.0 L354.6 803.4 L355.0 805.9 L355.5 808.3 L356.0 810.8 L356.4 813.3 L356.9 815.8 L357.4 818.2 L357.8 820.7 L358.3 823.2 L358.7 825.6 L359.2 828.1 L359.6 830.6 L360.0 833.1 L360.5 835.5 L360.9 838.0 L361.4 840.5 L361.8 842.9 L362.3 845.4 L362.7 847.9 L363.2 850.4 L363.6 852.8 L364.1 855.3 L364.5 857.8 L365.0 860.2 L365.4 862.7 L365.9 865.2 L366.4 867.6 L366.9 870.1 L367.4 872.5 L367.8 875.0 L368.3 877.4 L368.9 879.9 L369.4 882.3 L369.9 884.8 L370.4 887.2 L371.0 889.7 L371.5 892.1 L372.1 894.5 L372.6 897.0 L373.2 899.4 L373.8 901.8 L374.4 904.3 L375.0 906.7 L375.7 909.1 L376.3 911.5 L377.0 913.9 L377.6 916.3 L378.3 918.7 L379.0 921.1 L379.7 923.5 L380.5 925.9 L381.2 928.3 L382.0 930.6 L382.8 933.0 L383.6 935.4 L384.4 937.7 L385.2 940.1 L386.1 942.5 L386.9 944.8 L387.8 947.1 L388.7 949.5 L389.6 951.8 L390.6 954.1 L391.5 956.5 L392.5 958.8 L393.5 961.1 L394.4 963.4 L395.4 965.7 L396.4 968.0 L397.4 970.3 L398.4 972.6 L399.5 974.9 L400.5 977.2 L401.5 979.5 L402.5 981.8 L403.5 984.1 L404.6 986.4 L405.6 988.7 L406.6 991.0 L407.6 993.3 L408.6 995.7 L409.6 998.0 L410.6 1000.3 L411.6 1002.6 L412.6 1004.9 L413.5 1007.2 L414.5 1009.5 L415.4 1011.8 L416.4 1014.2 L417.3 1016.5 L418.2 1018.8 L419.1 1021.1 L420.0 1023.5 L420.9 1025.8 L421.8 1028.1 L422.7 1030.5 L423.6 1032.8 L424.5 1035.1 L425.4 1037.5 L426.3 1039.8 L427.2 1042.1 L428.1 1044.5 L429.0 1046.8 L429.9 1049.1 L430.8 1051.5 L431.7 1053.8 L432.6 1056.1 L433.5 1058.5 L434.4 1060.8 L435.3 1063.1 L436.3 1065.5 L437.2 1067.8 L438.2 1070.1 L439.1 1072.5 L440.1 1074.8 L441.1 1077.1 L442.1 1079.4 L443.1 1081.7 L444.1 1084.0 L445.1 1086.3 L446.2 1088.6 L447.2 1090.9 L448.3 1093.1 L449.4 1095.4 L450.5 1097.6 L451.7 1099.9 L452.9 1102.1 L454.0 1104.3 L455.2 1106.5 L456.5 1108.7 L457.7 1110.8 L459.0 1113.0 L460.3 1115.1 L461.7 1117.2 L463.0 1119.3 L464.4 1121.4 L465.9 1123.4 L467.3 1125.4 L468.8 1127.4 L470.3 1129.4 L471.9 1131.4 L473.5 1133.3 L475.1 1135.2 L476.8 1137.1 L478.5 1138.9 L480.2 1140.7 L482.0 1142.5 L483.8 1144.3 L485.7 1146.0 L487.6 1147.7 L489.6 1149.2 L491.6 1150.7 L493.7 1152.0 L495.9 1153.2 L498.2 1154.2 L500.6 1155.0 L503.0 1155.7 L505.5 1156.3 L508.0 1156.8 L510.4 1157.2 L512.9 1157.6 L515.4 1158.0 L517.8 1158.5 L520.3 1158.9 L522.7 1159.5 L525.1 1160.0 L527.5 1160.7 L529.9 1161.5 L532.3 1162.3 L534.7 1163.3 L537.1 1164.2 L539.5 1165.2 L541.9 1166.0 L544.3 1166.8 L546.7 1167.6 L549.1 1168.2 L551.6 1168.8 L554.0 1169.3 L556.5 1169.7 L558.9 1170.1 L561.4 1170.4 L563.9 1170.6 L566.3 1170.8 L568.8 1171.0 L571.3 1171.1 L573.8 1171.2 L576.3 1171.2 L578.8 1171.3 L581.3 1171.3 L583.8 1171.2 L586.3 1171.2 L588.8 1171.2 L591.3 1171.1 L593.9 1171.0 L596.4 1171.0 L598.9 1170.9 L601.4 1170.9 L603.9 1170.8 L606.4 1170.8 L608.9 1170.8 L611.4 1170.8 L613.9 1170.8 L616.4 1170.9 L618.9 1170.9 L621.4 1171.0 L623.9 1171.0 L626.4 1171.1 L628.9 1171.1 L631.4 1171.2 L633.9 1171.3 L636.4 1171.4 L638.9 1171.5 L641.4 1171.6 L644.0 1171.7 L646.5 1171.8 L649.0 1172.0 L651.5 1172.1 L654.0 1172.2 L656.5 1172.2 L659.0 1172.3 Z"/>
<rect class="fr" x="116.0" y="672.6" width="562.8" height="518.8"/>
<path class="t" d="M154.9 1191.4 v13.6 M279.0 1191.4 v13.6 M403.1 1191.4 v13.6 M527.0 1191.4 v13.6 M651.0 1191.4 v13.6 M116.0 1172.3 h-13.6 M116.0 1058.5 h-13.6 M116.0 944.6 h-13.6 M116.0 830.8 h-13.6 M116.0 717.0 h-13.6"/>
<text class="tk" x="155.9" y="1236.8" text-anchor="middle">0.01</text>
<text class="tk" x="275.1" y="1236.8" text-anchor="middle">0.02</text>
<text class="tk" x="400.8" y="1236.8" text-anchor="middle">0.03</text>
<text class="tk" x="526.8" y="1236.8" text-anchor="middle">0.04</text>
<text class="tk" x="645.9" y="1236.8" text-anchor="middle">0.05</text>
<text class="tk" x="95.0" y="1185.6" text-anchor="end">0</text>
<text class="tk" x="95.0" y="1071.1" text-anchor="end">20</text>
<text class="tk" x="95.0" y="956.6" text-anchor="end">40</text>
<text class="tk" x="95.0" y="842.1" text-anchor="end">60</text>
<text class="tk" x="95.0" y="727.6" text-anchor="end">80</text>
<text class="tt" y="658.9"><tspan x="233.83" textLength="114.39" lengthAdjust="spacingAndGlyphs">Baseline</tspan> <tspan x="356.52" textLength="129.07" lengthAdjust="spacingAndGlyphs">detection</tspan> <tspan x="494.41" textLength="53.86" lengthAdjust="spacingAndGlyphs">rate</tspan></text>
</g>
<g id="panel5">
<path class="hl" d="M774.3 1172.5 H1337.0"/>
<path class="cv" d="M793.9 1172.3 L796.3 1172.2 L798.8 1172.2 L801.2 1172.2 L803.7 1172.2 L806.3 1172.2 L808.8 1171.8 L811.3 1171.4 L813.8 1170.8 L816.3 1170.1 L818.7 1169.3 L821.1 1168.4 L823.4 1167.3 L825.7 1166.2 L827.9 1164.9 L829.9 1163.6 L831.9 1162.1 L833.8 1160.5 L835.6 1158.8 L837.4 1157.1 L839.0 1155.2 L840.6 1153.3 L842.1 1151.4 L843.6 1149.3 L845.1 1147.3 L846.5 1145.2 L847.9 1143.1 L849.3 1141.0 L850.8 1138.9 L852.2 1136.8 L853.7 1134.8 L855.2 1132.7 L856.7 1130.7 L858.3 1128.8 L860.0 1126.9 L861.7 1125.0 L863.4 1123.2 L865.2 1121.4 L867.0 1119.6 L868.8 1117.9 L870.6 1116.1 L872.5 1114.4 L874.3 1112.7 L876.2 1111.0 L878.1 1109.4 L879.9 1107.7 L881.8 1106.0 L883.6 1104.3 L885.5 1102.6 L887.3 1100.9 L889.1 1099.2 L890.8 1097.4 L892.5 1095.6 L894.2 1093.8 L895.8 1092.0 L897.4 1090.1 L898.9 1088.2 L900.4 1086.2 L901.8 1084.2 L903.1 1082.2 L904.4 1080.1 L905.6 1077.9 L906.8 1075.8 L908.0 1073.6 L909.1 1071.3 L910.1 1069.1 L911.1 1066.8 L912.1 1064.5 L913.0 1062.2 L913.9 1059.8 L914.8 1057.4 L915.6 1055.1 L916.5 1052.7 L917.3 1050.3 L918.1 1047.9 L918.8 1045.5 L919.6 1043.1 L920.3 1040.7 L921.0 1038.3 L921.7 1035.8 L922.4 1033.4 L923.1 1031.0 L923.8 1028.6 L924.5 1026.2 L925.1 1023.7 L925.8 1021.3 L926.4 1018.9 L927.1 1016.5 L927.7 1014.1 L928.3 1011.6 L928.9 1009.2 L929.5 1006.8 L930.1 1004.3 L930.7 1001.9 L931.3 999.5 L931.9 997.0 L932.5 994.6 L933.1 992.2 L933.7 989.8 L934.3 987.3 L934.9 984.9 L935.5 982.5 L936.1 980.0 L936.7 977.6 L937.4 975.2 L938.0 972.7 L938.6 970.3 L939.2 967.9 L939.8 965.5 L940.4 963.0 L941.1 960.6 L941.7 958.2 L942.3 955.7 L942.9 953.3 L943.6 950.9 L944.2 948.5 L944.8 946.0 L945.5 943.6 L946.1 941.2 L946.7 938.8 L947.4 936.3 L948.0 933.9 L948.6 931.5 L949.2 929.0 L949.9 926.6 L950.5 924.2 L951.1 921.8 L951.8 919.3 L952.4 916.9 L953.0 914.5 L953.7 912.1 L954.3 909.6 L954.9 907.2 L955.6 904.8 L956.2 902.3 L956.8 899.9 L957.4 897.5 L958.0 895.1 L958.7 892.6 L959.3 890.2 L959.9 887.8 L960.5 885.3 L961.1 882.9 L961.7 880.5 L962.3 878.0 L962.9 875.6 L963.5 873.2 L964.1 870.7 L964.7 868.3 L965.3 865.9 L965.9 863.4 L966.5 861.0 L967.1 858.6 L967.6 856.1 L968.2 853.7 L968.8 851.3 L969.4 848.8 L969.9 846.4 L970.5 843.9 L971.0 841.5 L971.6 839.1 L972.2 836.6 L972.7 834.2 L973.3 831.7 L973.8 829.3 L974.4 826.9 L975.0 824.4 L975.5 822.0 L976.1 819.5 L976.6 817.1 L977.2 814.7 L977.8 812.2 L978.3 809.8 L978.9 807.4 L979.5 804.9 L980.1 802.5 L980.6 800.0 L981.2 797.6 L981.8 795.2 L982.4 792.7 L983.0 790.3 L983.6 787.9 L984.2 785.4 L984.8 783.0 L985.4 780.6 L986.1 778.1 L986.7 775.7 L987.3 773.3 L988.0 770.9 L988.6 768.4 L989.3 766.0 L990.0 763.6 L990.7 761.2 L991.5 758.8 L992.2 756.4 L993.0 754.1 L993.9 751.7 L994.8 749.4 L995.7 747.0 L996.6 744.7 L997.6 742.4 L998.7 740.2 L999.8 737.9 L1001.0 735.7 L1002.2 733.5 L1003.4 731.3 L1004.7 729.2 L1006.1 727.0 L1007.4 724.9 L1008.8 722.8 L1010.2 720.7 L1011.6 718.6 L1013.0 716.6 L1014.4 714.5 L1015.8 712.5 L1017.1 710.5 L1018.5 708.4 L1019.9 706.3 L1021.4 704.3 L1022.8 702.2 L1024.3 700.0 L1025.9 697.9 L1027.6 695.9 L1029.5 694.2 L1031.7 693.0 L1033.9 692.4 L1036.2 692.7 L1038.4 693.7 L1040.5 695.1 L1042.3 696.8 L1043.9 698.7 L1045.3 700.8 L1046.5 702.9 L1047.7 705.2 L1048.7 707.5 L1049.8 709.8 L1050.8 712.1 L1051.7 714.5 L1052.7 716.8 L1053.6 719.2 L1054.5 721.5 L1055.3 723.9 L1056.2 726.3 L1057.0 728.6 L1057.8 731.0 L1058.6 733.4 L1059.4 735.8 L1060.1 738.2 L1060.8 740.6 L1061.5 743.0 L1062.2 745.4 L1062.9 747.8 L1063.6 750.2 L1064.2 752.6 L1064.9 755.0 L1065.5 757.5 L1066.1 759.9 L1066.7 762.3 L1067.3 764.8 L1067.9 767.2 L1068.5 769.6 L1069.0 772.1 L1069.6 774.5 L1070.1 777.0 L1070.7 779.4 L1071.2 781.8 L1071.8 784.3 L1072.3 786.7 L1072.8 789.2 L1073.3 791.6 L1073.9 794.1 L1074.4 796.5 L1074.9 799.0 L1075.5 801.4 L1076.0 803.9 L1076.5 806.3 L1077.1 808.8 L1077.6 811.2 L1078.1 813.7 L1078.7 816.1 L1079.2 818.6 L1079.8 821.0 L1080.4 823.4 L1080.9 825.9 L1081.5 828.3 L1082.1 830.8 L1082.6 833.2 L1083.2 835.6 L1083.8 838.1 L1084.4 840.5 L1085.0 843.0 L1085.5 845.4 L1086.1 847.8 L1086.7 850.3 L1087.3 852.7 L1087.9 855.1 L1088.5 857.6 L1089.1 860.0 L1089.8 862.4 L1090.4 864.8 L1091.0 867.3 L1091.6 869.7 L1092.2 872.1 L1092.9 874.5 L1093.5 877.0 L1094.1 879.4 L1094.8 881.8 L1095.4 884.2 L1096.0 886.7 L1096.7 889.1 L1097.3 891.5 L1098.0 893.9 L1098.6 896.3 L1099.3 898.8 L1099.9 901.2 L1100.6 903.6 L1101.3 906.0 L1101.9 908.4 L1102.6 910.8 L1103.3 913.3 L1103.9 915.7 L1104.6 918.1 L1105.3 920.5 L1106.0 922.9 L1106.6 925.3 L1107.3 927.7 L1108.0 930.1 L1108.7 932.6 L1109.4 935.0 L1110.1 937.4 L1110.8 939.8 L1111.5 942.2 L1112.2 944.6 L1112.9 947.0 L1113.6 949.4 L1114.3 951.8 L1115.0 954.2 L1115.7 956.6 L1116.4 959.0 L1117.1 961.4 L1117.9 963.8 L1118.6 966.2 L1119.3 968.6 L1120.0 971.0 L1120.7 973.4 L1121.5 975.8 L1122.2 978.2 L1122.9 980.6 L1123.7 983.0 L1124.4 985.4 L1125.1 987.8 L1125.9 990.2 L1126.6 992.6 L1127.4 995.0 L1128.1 997.4 L1128.8 999.8 L1129.6 1002.2 L1130.3 1004.5 L1131.1 1006.9 L1131.8 1009.3 L1132.6 1011.7 L1133.3 1014.1 L1134.1 1016.5 L1134.8 1018.9 L1135.6 1021.3 L1136.4 1023.7 L1137.1 1026.0 L1137.9 1028.4 L1138.7 1030.8 L1139.4 1033.2 L1140.2 1035.6 L1140.9 1038.0 L1141.7 1040.3 L1142.5 1042.7 L1143.3 1045.1 L1144.0 1047.5 L1144.8 1049.9 L1145.6 1052.3 L1146.4 1054.6 L1147.2 1057.0 L1148.0 1059.4 L1148.8 1061.8 L1149.6 1064.1 L1150.4 1066.5 L1151.3 1068.9 L1152.1 1071.3 L1153.0 1073.6 L1153.8 1076.0 L1154.7 1078.4 L1155.6 1080.7 L1156.5 1083.1 L1157.5 1085.4 L1158.6 1087.6 L1159.8 1089.8 L1161.2 1091.8 L1162.7 1093.7 L1164.5 1095.4 L1166.5 1097.0 L1168.5 1098.5 L1170.7 1100.0 L1172.7 1101.5 L1174.7 1103.1 L1176.7 1104.7 L1178.6 1106.4 L1180.4 1108.1 L1182.2 1109.8 L1183.9 1111.6 L1185.6 1113.5 L1187.2 1115.3 L1188.8 1117.2 L1190.4 1119.1 L1192.0 1121.1 L1193.6 1123.0 L1195.1 1124.9 L1196.7 1126.9 L1198.2 1128.9 L1199.8 1130.8 L1201.3 1132.7 L1202.9 1134.7 L1204.5 1136.6 L1206.2 1138.5 L1207.8 1140.4 L1209.5 1142.2 L1211.3 1144.0 L1213.0 1145.8 L1214.9 1147.6 L1216.7 1149.3 L1218.6 1150.9 L1220.6 1152.5 L1222.6 1154.1 L1224.6 1155.6 L1226.7 1157.0 L1228.8 1158.4 L1230.9 1159.7 L1233.1 1160.9 L1235.3 1162.1 L1237.5 1163.2 L1239.8 1164.2 L1242.1 1165.1 L1244.4 1165.9 L1246.8 1166.6 L1249.2 1167.3 L1251.6 1167.8 L1254.1 1168.3 L1256.5 1168.6 L1259.0 1169.0 L1261.5 1169.2 L1264.0 1169.4 L1266.6 1169.6 L1269.1 1169.7 L1271.6 1169.8 L1274.2 1169.9 L1276.7 1170.0 L1279.3 1170.1 L1281.8 1170.2 L1284.3 1170.3 L1286.8 1170.5 L1289.3 1170.7 L1291.8 1170.9 L1294.2 1171.2 L1296.7 1171.5 L1299.2 1171.8 L1301.6 1172.0 L1304.1 1172.2 L1306.6 1172.2 L1309.1 1172.2 L1311.6 1172.2 L1314.1 1172.2 L1316.7 1172.3 Z"/>
<rect class="fr" x="774.3" y="672.6" width="562.7" height="518.8"/>
<path class="t" d="M784.1 1191.4 v13.6 M882.2 1191.4 v13.6 M980.3 1191.4 v13.6 M1078.4 1191.4 v13.6 M1176.5 1191.4 v13.6 M1274.6 1191.4 v13.6 M774.3 1172.2 h-13.6 M774.3 1086.3 h-13.6 M774.3 1000.5 h-13.6 M774.3 914.7 h-13.6 M774.3 828.9 h-13.6 M774.3 743.1 h-13.6"/>
<text class="tk" x="784.0" y="1236.8" text-anchor="middle">0.0</text>
<text class="tk" x="881.2" y="1236.8" text-anchor="middle">0.5</text>
<text class="tk" x="979.0" y="1236.8" text-anchor="middle">1.0</text>
<text class="tk" x="1076.3" y="1236.8" text-anchor="middle">1.5</text>
<text class="tk" x="1173.5" y="1236.8" text-anchor="middle">2.0</text>
<text class="tk" x="1277.3" y="1236.8" text-anchor="middle">2.5</text>
<text class="tk" x="752.8" y="1181.5" text-anchor="end">0.0</text>
<text class="tk" x="752.8" y="1095.6" text-anchor="end">0.2</text>
<text class="tk" x="752.8" y="1009.8" text-anchor="end">0.4</text>
<text class="tk" x="752.8" y="924.0" text-anchor="end">0.6</text>
<text class="tk" x="752.8" y="838.2" text-anchor="end">0.8</text>
<text class="tk" x="752.8" y="752.4" text-anchor="end">1.0</text>
<text class="tt" y="658.9"><tspan x="890.93" textLength="134.61" lengthAdjust="spacingAndGlyphs">Detection</tspan> <tspan x="1033.04" textLength="54.39" lengthAdjust="spacingAndGlyphs">rate</tspan> <tspan x="1095.68" textLength="77.74" lengthAdjust="spacingAndGlyphs">decay</tspan></text>
</g>
<g id="panel6">
<path class="hl" d="M1434.0 1172.5 H1996.6"/>
<clipPath id="cp5"><rect x="1434.0" y="672.6" width="562.5999999999999" height="518.8000000000001"/></clipPath>
<path class="cv" clip-path="url(#cp5)" d="M1425.0 1172.2 L1425.0 1170.0 L1427.5 1169.9 L1430.0 1169.9 L1432.5 1170.0 L1435.0 1170.0 L1437.5 1170.1 L1440.0 1170.2 L1442.6 1170.3 L1445.1 1170.4 L1447.6 1170.5 L1450.1 1170.6 L1452.6 1170.6 L1455.1 1170.6 L1457.6 1170.5 L1460.1 1170.3 L1462.6 1170.1 L1465.1 1169.8 L1467.6 1169.3 L1470.0 1168.8 L1472.5 1168.3 L1474.9 1167.7 L1477.4 1167.1 L1479.8 1166.5 L1482.3 1165.9 L1484.8 1165.4 L1487.2 1165.0 L1489.7 1164.7 L1492.2 1164.5 L1494.7 1164.4 L1497.2 1164.5 L1499.7 1164.7 L1502.3 1164.9 L1504.8 1165.0 L1507.3 1165.1 L1509.8 1165.0 L1512.3 1164.6 L1514.7 1164.2 L1517.2 1163.5 L1519.6 1162.8 L1522.0 1162.1 L1524.5 1161.4 L1526.9 1160.8 L1529.4 1160.3 L1531.8 1159.9 L1534.3 1159.7 L1536.8 1159.8 L1539.2 1160.0 L1541.7 1160.3 L1544.3 1160.7 L1546.8 1161.0 L1549.3 1161.3 L1551.8 1161.5 L1554.3 1161.6 L1556.8 1161.5 L1559.2 1161.4 L1561.7 1161.1 L1564.1 1160.7 L1566.5 1160.1 L1568.8 1159.3 L1571.1 1158.3 L1573.4 1157.3 L1575.7 1156.1 L1578.0 1154.9 L1580.3 1153.8 L1582.6 1152.7 L1584.9 1151.7 L1587.3 1150.8 L1589.6 1150.2 L1592.1 1149.8 L1594.6 1149.6 L1597.1 1149.6 L1599.6 1149.7 L1602.2 1149.9 L1604.7 1150.0 L1607.3 1149.9 L1609.7 1149.7 L1612.2 1149.4 L1614.6 1148.8 L1617.0 1148.2 L1619.4 1147.4 L1621.8 1146.6 L1624.2 1145.8 L1626.5 1144.9 L1628.9 1144.0 L1631.3 1143.2 L1633.7 1142.4 L1636.1 1141.6 L1638.5 1140.8 L1640.9 1140.0 L1643.3 1139.2 L1645.7 1138.4 L1648.0 1137.5 L1650.3 1136.5 L1652.5 1135.5 L1654.7 1134.4 L1656.9 1133.2 L1658.9 1132.0 L1660.9 1130.5 L1662.9 1129.0 L1664.7 1127.3 L1666.5 1125.6 L1668.2 1123.7 L1669.8 1121.7 L1671.4 1119.7 L1673.0 1117.6 L1674.5 1115.5 L1676.0 1113.4 L1677.4 1111.2 L1678.8 1109.1 L1680.3 1107.0 L1681.6 1104.8 L1683.0 1102.7 L1684.4 1100.7 L1685.8 1098.6 L1687.2 1096.6 L1688.6 1094.6 L1690.1 1092.6 L1691.6 1090.7 L1693.1 1088.8 L1694.6 1086.9 L1696.2 1085.1 L1697.8 1083.3 L1699.5 1081.5 L1701.3 1079.8 L1703.1 1078.1 L1705.0 1076.5 L1707.0 1074.9 L1709.0 1073.4 L1711.0 1071.8 L1713.1 1070.3 L1715.1 1068.7 L1717.0 1067.2 L1719.0 1065.5 L1720.8 1063.9 L1722.5 1062.1 L1724.2 1060.3 L1725.7 1058.4 L1727.1 1056.4 L1728.3 1054.3 L1729.4 1052.2 L1730.4 1050.0 L1731.3 1047.7 L1732.1 1045.3 L1732.8 1042.9 L1733.5 1040.4 L1734.1 1037.9 L1734.6 1035.4 L1735.1 1032.9 L1735.6 1030.3 L1736.1 1027.7 L1736.6 1025.2 L1737.0 1022.6 L1737.5 1020.1 L1738.0 1017.6 L1738.5 1015.1 L1739.1 1012.6 L1739.7 1010.1 L1740.2 1007.7 L1740.8 1005.2 L1741.5 1002.8 L1742.1 1000.4 L1742.7 998.0 L1743.4 995.6 L1744.0 993.2 L1744.7 990.8 L1745.4 988.4 L1746.0 986.0 L1746.7 983.6 L1747.4 981.2 L1748.1 978.9 L1748.8 976.5 L1749.5 974.1 L1750.1 971.7 L1750.8 969.3 L1751.5 966.9 L1752.2 964.5 L1752.9 962.1 L1753.5 959.7 L1754.2 957.3 L1754.9 954.9 L1755.5 952.5 L1756.2 950.1 L1756.9 947.6 L1757.5 945.2 L1758.2 942.8 L1758.8 940.4 L1759.5 938.0 L1760.1 935.5 L1760.8 933.1 L1761.4 930.7 L1762.1 928.3 L1762.7 925.8 L1763.3 923.4 L1764.0 921.0 L1764.6 918.5 L1765.2 916.1 L1765.8 913.7 L1766.4 911.2 L1767.0 908.8 L1767.6 906.3 L1768.2 903.9 L1768.8 901.4 L1769.4 899.0 L1769.9 896.5 L1770.5 894.1 L1771.0 891.6 L1771.6 889.2 L1772.1 886.7 L1772.7 884.3 L1773.2 881.8 L1773.7 879.4 L1774.3 876.9 L1774.8 874.4 L1775.3 872.0 L1775.8 869.5 L1776.3 867.0 L1776.7 864.6 L1777.2 862.1 L1777.7 859.6 L1778.1 857.2 L1778.6 854.7 L1779.0 852.2 L1779.4 849.8 L1779.8 847.3 L1780.3 844.8 L1780.7 842.4 L1781.1 839.9 L1781.5 837.4 L1781.9 834.9 L1782.2 832.5 L1782.6 830.0 L1783.0 827.5 L1783.4 825.0 L1783.8 822.6 L1784.1 820.1 L1784.5 817.6 L1784.9 815.1 L1785.3 812.6 L1785.6 810.2 L1786.0 807.7 L1786.4 805.2 L1786.7 802.7 L1787.1 800.3 L1787.5 797.8 L1787.9 795.3 L1788.2 792.8 L1788.6 790.3 L1789.0 787.9 L1789.4 785.4 L1789.8 782.9 L1790.2 780.4 L1790.6 778.0 L1791.0 775.5 L1791.4 773.0 L1791.9 770.5 L1792.3 768.1 L1792.7 765.6 L1793.2 763.1 L1793.6 760.6 L1794.1 758.2 L1794.5 755.7 L1795.0 753.2 L1795.5 750.8 L1795.9 748.3 L1796.4 745.8 L1796.9 743.4 L1797.4 740.9 L1797.9 738.5 L1798.4 736.0 L1798.9 733.6 L1799.4 731.1 L1799.9 728.6 L1800.4 726.2 L1801.0 723.8 L1801.5 721.3 L1802.0 718.9 L1802.6 716.4 L1803.2 714.0 L1803.8 711.6 L1804.6 709.2 L1805.4 706.8 L1806.4 704.5 L1807.5 702.2 L1808.8 699.9 L1810.3 697.7 L1811.9 695.7 L1813.8 694.0 L1815.7 693.0 L1817.8 692.7 L1819.9 693.3 L1822.0 694.7 L1824.0 696.5 L1825.8 698.5 L1827.3 700.6 L1828.7 702.8 L1829.9 705.0 L1831.0 707.2 L1831.9 709.5 L1832.8 711.9 L1833.6 714.3 L1834.3 716.7 L1835.0 719.1 L1835.6 721.5 L1836.2 723.9 L1836.7 726.4 L1837.3 728.8 L1837.8 731.3 L1838.2 733.7 L1838.7 736.2 L1839.1 738.7 L1839.5 741.1 L1839.9 743.6 L1840.2 746.1 L1840.6 748.6 L1840.9 751.1 L1841.2 753.6 L1841.5 756.0 L1841.8 758.5 L1842.1 761.0 L1842.3 763.5 L1842.6 766.0 L1842.8 768.5 L1843.1 771.0 L1843.3 773.5 L1843.5 776.0 L1843.8 778.5 L1844.0 781.0 L1844.2 783.5 L1844.5 786.0 L1844.7 788.5 L1844.9 791.0 L1845.2 793.5 L1845.4 796.0 L1845.6 798.5 L1845.8 801.0 L1846.0 803.5 L1846.2 806.0 L1846.5 808.5 L1846.7 811.0 L1846.9 813.5 L1847.1 816.0 L1847.3 818.5 L1847.5 821.0 L1847.7 823.5 L1847.9 826.0 L1848.1 828.5 L1848.3 831.0 L1848.5 833.5 L1848.7 836.0 L1848.9 838.6 L1849.1 841.1 L1849.3 843.6 L1849.5 846.1 L1849.7 848.6 L1849.9 851.1 L1850.0 853.6 L1850.2 856.1 L1850.4 858.6 L1850.6 861.1 L1850.8 863.6 L1851.0 866.1 L1851.1 868.6 L1851.3 871.1 L1851.5 873.6 L1851.7 876.1 L1851.9 878.6 L1852.0 881.1 L1852.2 883.6 L1852.4 886.1 L1852.6 888.6 L1852.7 891.1 L1852.9 893.6 L1853.1 896.2 L1853.3 898.7 L1853.4 901.2 L1853.6 903.7 L1853.8 906.2 L1853.9 908.7 L1854.1 911.2 L1854.3 913.7 L1854.4 916.2 L1854.6 918.7 L1854.8 921.2 L1855.0 923.7 L1855.1 926.2 L1855.3 928.7 L1855.5 931.2 L1855.6 933.7 L1855.8 936.2 L1856.0 938.7 L1856.1 941.2 L1856.3 943.7 L1856.5 946.2 L1856.6 948.7 L1856.8 951.2 L1857.0 953.7 L1857.1 956.2 L1857.3 958.7 L1857.5 961.2 L1857.6 963.7 L1857.8 966.2 L1858.0 968.7 L1858.1 971.2 L1858.3 973.7 L1858.5 976.2 L1858.7 978.7 L1858.8 981.2 L1859.0 983.7 L1859.2 986.2 L1859.3 988.7 L1859.5 991.2 L1859.7 993.7 L1859.9 996.2 L1860.0 998.7 L1860.2 1001.2 L1860.4 1003.7 L1860.6 1006.2 L1860.8 1008.7 L1860.9 1011.2 L1861.1 1013.7 L1861.3 1016.2 L1861.5 1018.7 L1861.7 1021.2 L1861.8 1023.7 L1862.0 1026.2 L1862.2 1028.6 L1862.4 1031.1 L1862.6 1033.6 L1862.8 1036.1 L1863.0 1038.6 L1863.2 1041.1 L1863.4 1043.6 L1863.6 1046.1 L1863.8 1048.6 L1864.0 1051.1 L1864.2 1053.5 L1864.4 1056.0 L1864.6 1058.5 L1864.8 1061.0 L1865.0 1063.5 L1865.2 1066.0 L1865.5 1068.5 L1865.7 1071.0 L1865.9 1073.4 L1866.2 1075.9 L1866.4 1078.4 L1866.7 1080.9 L1867.0 1083.4 L1867.2 1085.9 L1867.5 1088.4 L1867.8 1090.9 L1868.1 1093.3 L1868.4 1095.8 L1868.7 1098.3 L1869.1 1100.8 L1869.4 1103.3 L1869.7 1105.8 L1870.1 1108.3 L1870.5 1110.8 L1870.8 1113.2 L1871.2 1115.7 L1871.6 1118.2 L1872.0 1120.7 L1872.5 1123.2 L1872.9 1125.7 L1873.4 1128.2 L1873.8 1130.7 L1874.3 1133.2 L1874.8 1135.6 L1875.3 1138.1 L1875.8 1140.6 L1876.4 1143.1 L1876.9 1145.6 L1877.5 1148.1 L1878.1 1150.6 L1878.8 1153.1 L1879.5 1155.5 L1880.3 1157.9 L1881.2 1160.1 L1882.3 1162.3 L1883.5 1164.4 L1884.9 1166.3 L1886.6 1168.1 L1888.5 1169.6 L1890.6 1171.0 L1892.9 1172.0 L1895.4 1172.2 L1898.0 1172.2 L1900.6 1172.3 Z"/>
<path d="M1826.8 672.6 V1191.4" stroke="#000" stroke-width="6.2" fill="none"/>
<rect class="fr" x="1434.0" y="672.6" width="562.6" height="518.8"/>
<path class="t" d="M1454.7 1191.4 v13.6 M1529.0 1191.4 v13.6 M1603.4 1191.4 v13.6 M1677.8 1191.4 v13.6 M1752.2 1191.4 v13.6 M1826.5 1191.4 v13.6 M1900.7 1191.4 v13.6 M1975.1 1191.4 v13.6 M1434.0 1172.0 h-13.6 M1434.0 1095.7 h-13.6 M1434.0 1019.5 h-13.6 M1434.0 943.2 h-13.6 M1434.0 866.9 h-13.6 M1434.0 790.6 h-13.6 M1434.0 714.4 h-13.6"/>
<text class="tk" x="1454.9" y="1236.8" text-anchor="middle">-5</text>
<text class="tk" x="1525.9" y="1236.8" text-anchor="middle">-4</text>
<text class="tk" x="1603.2" y="1236.8" text-anchor="middle">-3</text>
<text class="tk" x="1673.4" y="1236.8" text-anchor="middle">-2</text>
<text class="tk" x="1751.0" y="1236.8" text-anchor="middle">-1</text>
<text class="tk" x="1823.7" y="1236.8" text-anchor="middle">0</text>
<text class="tk" x="1905.2" y="1236.8" text-anchor="middle">1</text>
<text class="tk" x="1973.6" y="1236.8" text-anchor="middle">2</text>
<text class="tk" x="1408.8" y="1186.2" text-anchor="end">0.0</text>
<text class="tk" x="1408.8" y="1109.6" text-anchor="end">0.1</text>
<text class="tk" x="1408.8" y="1033.0" text-anchor="end">0.2</text>
<text class="tk" x="1408.8" y="956.4" text-anchor="end">0.3</text>
<text class="tk" x="1408.8" y="879.8" text-anchor="end">0.4</text>
<text class="tk" x="1408.8" y="803.1" text-anchor="end">0.5</text>
<text class="tk" x="1408.8" y="726.6" text-anchor="end">0.6</text>
<text class="tt" y="658.9"><tspan x="1578.25" textLength="75.91" lengthAdjust="spacingAndGlyphs">Effect</tspan> <tspan x="1662.57" textLength="28.22" lengthAdjust="spacingAndGlyphs">of</tspan> <tspan x="1698.62" textLength="60.33" lengthAdjust="spacingAndGlyphs">prey</tspan></text>
</g>
<text class="tt" transform="translate(24.6 280.6) rotate(-90)" text-anchor="middle" textLength="102" lengthAdjust="spacingAndGlyphs">Density</text>
<text class="tt" transform="translate(24.6 918.7) rotate(-90)" text-anchor="middle" textLength="102" lengthAdjust="spacingAndGlyphs">Density</text>
</svg>
</body></html>
